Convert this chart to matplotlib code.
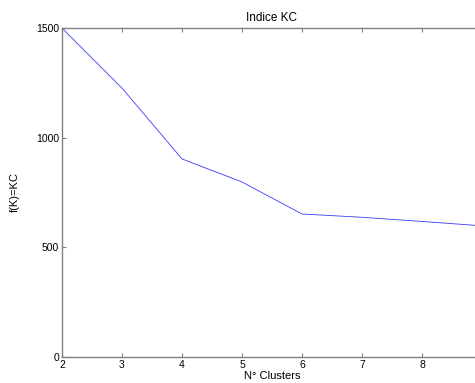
import matplotlib
matplotlib.use("Agg")
import matplotlib.pyplot as plt

plt.rcParams['font.family'] = ['Liberation Sans', 'DejaVu Sans']

# number of clusters and KC index values
clusters = [2, 3, 4, 5, 6, 7, 8, 9]
kc_values = [1500, 1226, 903, 798, 652, 637, 618, 598]
x_ticks = [2, 3, 4, 5, 6, 7, 8]
y_ticks = [0, 500, 1000, 1500]

fig = plt.figure(figsize=(4.75, 3.83), dpi=100)
# axes run out past the right edge, like the original screenshot
ax = fig.add_axes([62 / 475, 26 / 383, 420 / 475, 329 / 383])

ax.plot(clusters, kc_values, color='#3a3aff', linewidth=0.6)

ax.set_xlim(2, 9)
ax.set_ylim(0, 1500)
ax.set_xticks(x_ticks)
ax.set_yticks(y_ticks)

for s in ax.spines.values():
    s.set_color('#808080')
    s.set_linewidth(1.0)
ax.tick_params(direction='in', length=3, width=0.8, color='#808080',
               labelsize=7.5, top=True, right=True, pad=2)

ax.set_title('Indice KC', fontsize=8.5, pad=5)
ax.set_xlabel('N° Clusters', fontsize=8, labelpad=1)
ax.set_ylabel('f(K)=KC', fontsize=8, labelpad=12)

fig.savefig('out.png', dpi=100)
